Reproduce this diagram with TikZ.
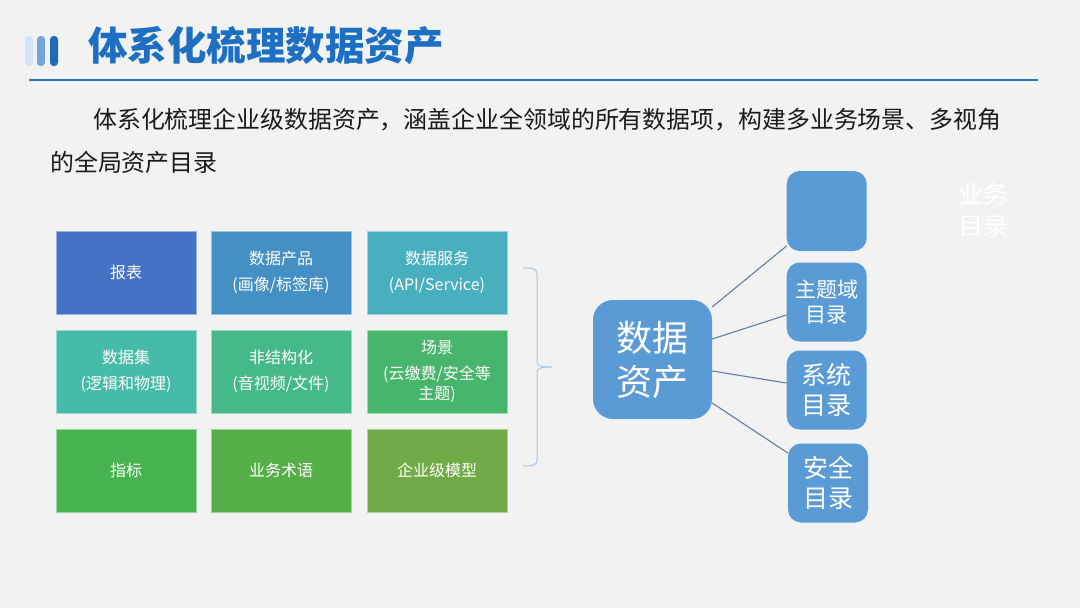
\documentclass[tikz,border=0pt]{standalone}
\usepackage{fontspec}
\setmainfont{Noto Sans CJK SC}

\definecolor{bgGray}{HTML}{F2F2F2}
\definecolor{titleBlue}{HTML}{1C6FC2}
\definecolor{ruleBlue}{HTML}{1F78C8}
\definecolor{barLight}{HTML}{D3E4F5}
\definecolor{barMid}{HTML}{72A6DA}
\definecolor{barDark}{HTML}{1D6CBC}
\definecolor{textDark}{HTML}{1A1A1A}
\definecolor{boxBlue}{HTML}{5B9BD5}
\definecolor{linkBlue}{HTML}{5B7FA8}
\definecolor{braceBlue}{HTML}{A9C6E4}
\definecolor{cellA}{HTML}{4472C4}
\definecolor{cellB}{HTML}{4490C4}
\definecolor{cellC}{HTML}{47AFBE}
\definecolor{cellD}{HTML}{45BBA8}
\definecolor{cellE}{HTML}{45B98A}
\definecolor{cellF}{HTML}{47B56B}
\definecolor{cellG}{HTML}{46B350}
\definecolor{cellH}{HTML}{56AE48}
\definecolor{cellI}{HTML}{70AB47}

\newcommand{\setfs}[2]{\fontsize{#1}{#2}\selectfont}

\begin{document}
\begin{tikzpicture}[x=1pt,y=-1pt,
    cell/.style={minimum width=140pt,minimum height=83pt,inner sep=1pt,
      fill=#1,draw=white!45!#1,line width=0.6pt,text=white,align=center,
      font=\setfs{16}{26}},
    mbox/.style={rounded corners=13pt,fill=boxBlue,minimum width=80pt,
      minimum height=79pt,inner sep=1pt,text=white,align=center},
    link/.style={draw=linkBlue,line width=1.1pt}]
        \fill [bgGray] (0,0) rectangle (1080,608);
        \useasboundingbox (0,0) rectangle (1080,608);

        \fill [barLight,rounded corners=3.5pt] (25,36) rectangle (33,66);
        \fill [barMid,rounded corners=3.5pt] (37,36) rectangle (45,66);
        \fill [barDark,rounded corners=3.5pt] (50,36) rectangle (58,66);
        \node (title) [anchor=west,inner sep=0pt,text=titleBlue,
          font=\setfs{39.5}{44}\bfseries] at (88,46) {体系化梳理数据资产};
        \draw [ruleBlue,line width=2pt] (29,79.5) -- (1038,79.5);

        \node (para1) [anchor=west,inner sep=0pt,text=textDark,font=\setfs{23.9}{30}]
          at (93,120) {体系化梳理企业级数据资产，涵盖企业全领域的所有数据项，构建多业务场景、多视角};
        \node (para2) [anchor=west,inner sep=0pt,text=textDark,font=\setfs{23.9}{30}]
          at (50,162) {的全局资产目录};

        \node (baobiao) [cell=cellA] at (126,272.5) {报表};
        \node (chanpin) [cell=cellB] at (281,272.5) {数据产品\\(画像/标签库)};
        \node (fuwu) [cell=cellC] at (437,272.5) {数据服务\\(API/Service)};
        \node (shujuji) [cell=cellD] at (126,371.5) {数据集\\(逻辑和物理)};
        \node (feijiegou) [cell=cellE] at (281,371.5) {非结构化\\(音视频/文件)};
        \node (changjing) [cell=cellF] at (437,371.5) {场景\\(云缴费/安全等\\[-6pt]主题)};
        \node (zhibiao) [cell=cellG] at (126,470.5) {指标};
        \node (shuyu) [cell=cellH] at (281,470.5) {业务术语};
        \node (moxing) [cell=cellI] at (437,470.5) {企业级模型};

        \coordinate (bracetop) at (523,268);
        \coordinate (bracetip) at (552,367);
        \coordinate (bracebot) at (523,466);
        \draw [braceBlue,line width=1pt]
          (bracetop) .. controls (533,268) and (537,269) .. (537,274)
          -- (537,361) .. controls (537,366) and (541,367) .. (bracetip)
          .. controls (541,367) and (537,368) .. (537,373)
          -- (537,460) .. controls (537,465) and (533,466) .. (bracebot);

        \node (zichan) [mbox,rounded corners=20pt,minimum width=119pt,minimum height=119pt,
          font=\setfs{36}{44}] at (652.5,359.5) {数据\\资产};

        \node (yewu) [mbox,minimum height=80pt] at (826.7,211) {};
        \node (zhuti) [mbox,font=\setfs{21}{25}] at (826.7,302) {主题域\\目录};
        \node (xitong) [mbox,font=\setfs{25}{30}] at (826.7,390) {系统\\目录};
        \node (anquan) [mbox,font=\setfs{25}{30}] at (828,483) {安全\\目录};
        \node (yewulabel) [text=white,align=center,font=\setfs{25}{32}] at (983,210) {业务\\目录};

        \draw [link] ([yshift=52.5pt]zichan.east) -- ([yshift=-35pt]yewu.west);
        \draw [link] ([yshift=20.5pt]zichan.east) -- ([yshift=-13pt]zhuti.west);
        \draw [link] ([yshift=-11.5pt]zichan.east) -- ([yshift=7pt]xitong.west);
        \draw [link] ([yshift=-43.5pt]zichan.east) -- ([yshift=30pt]anquan.west);
\end{tikzpicture}
\end{document}
